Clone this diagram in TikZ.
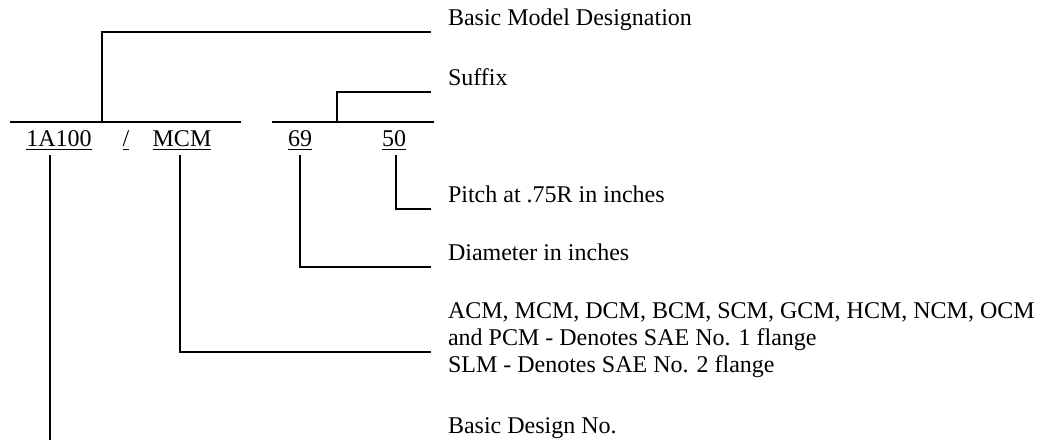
\documentclass[tikz,border=0pt]{standalone}
\usepackage{fontspec}
\setmainfont{Liberation Serif}
\begin{document}
\begin{tikzpicture}[x=0.5pt,y=-0.5pt,line width=1pt,
  code/.style={inner sep=0pt,anchor=base,font=\fontsize{12}{14}\selectfont},
  note/.style={inner sep=0pt,anchor=base west,align=left,font=\fontsize{12}{13.5}\selectfont}]
\useasboundingbox (0,0) rectangle (1040,440);

\node[code] (basic) at (59,146) {\underline{1A100}};
\node[code] (slash) at (126,146) {\underline{/}};
\node[code] (flange) at (182,146) {\underline{MCM}};
\node[code] (diam) at (300,146) {\underline{69}};
\node[code] (pitch) at (394,146) {\underline{50}};

\node[note] (tmodel) at (447,25) {Basic Model Designation};
\node[note] (tsuffix) at (447,85) {Suffix};
\node[note] (tpitch) at (447,202) {Pitch at .75R in inches};
\node[note] (tdiam) at (447,260) {Diameter in inches};
\node[note] (tflange) at (447,372) {ACM, MCM, DCM, BCM, SCM, GCM, HCM, NCM, OCM\\and PCM - Denotes SAE No. 1 flange\\SLM - Denotes SAE No. 2 flange};
\node[note] (tbasic) at (447,433) {Basic Design No.};

\coordinate (bar1a) at (10,122);
\coordinate (bar1b) at (241,122);
\coordinate (bar2a) at (272,122);
\coordinate (bar2b) at (434,122);
\coordinate (m1) at (102,122);
\coordinate (m2) at (337,122);
\coordinate (e1) at (431,32);
\coordinate (e2) at (431,92);
\coordinate (e3) at (431,209);
\coordinate (e4) at (431,267);
\coordinate (e5) at (431,352);
\coordinate (e6) at (50,440);

\draw (bar1a) -- (bar1b);
\draw (bar2a) -- (bar2b);
\draw (m1) |- (e1);
\draw (m2) |- (e2);
\draw ([xshift=1pt,yshift=-2pt]pitch.south) |- (e3);
\draw ([yshift=-2pt]diam.south) |- (e4);
\draw ([xshift=-1pt,yshift=-2pt]flange.south) |- (e5);
\draw ([yshift=-2pt]basic.south -| e6) -- (e6);
\end{tikzpicture}
\end{document}
